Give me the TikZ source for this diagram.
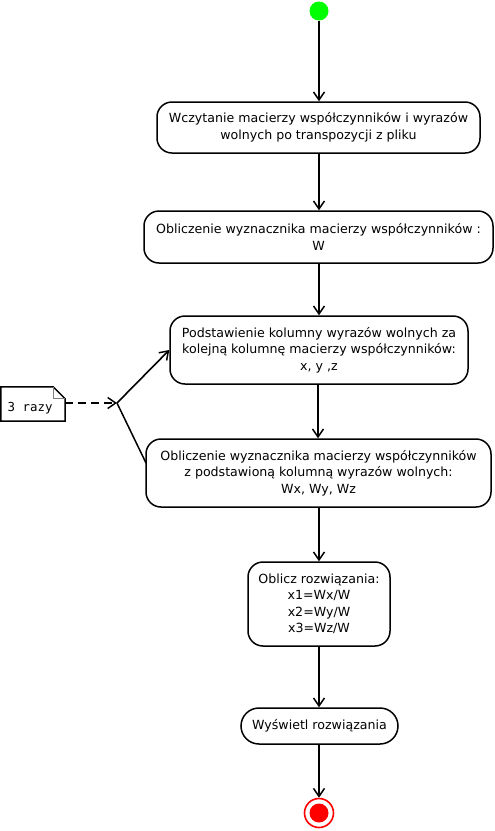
\documentclass[tikz,border=0pt]{standalone}
\usepackage{fontspec}
\setmainfont{DejaVu Sans}
\newfontfamily\monofont{DejaVu Sans Mono}
\usetikzlibrary{arrows.meta}
\begin{document}
\begin{tikzpicture}[x=1pt,y=-1pt,
  font=\fontsize{12.6}{16.5}\selectfont,
  act/.style={draw, line width=1.5pt, rounded corners=15pt, align=center, inner sep=0pt},
  tip/.style={-{Straight Barb[length=8pt,width=11pt,line width=1.5pt]}},
  flow/.style={line width=1.6pt, tip},
  plain/.style={line width=1.5pt}]
\useasboundingbox (0,0) rectangle (495,831);
% start and end points
\node[circle, fill={rgb,255:red,0;green,255;blue,0}, minimum size=19pt, inner sep=0pt] (start) at (319,11) {};
\node[circle, draw=red, line width=1.6pt, fill=white, minimum size=29pt, inner sep=0pt] (end) at (319,813) {};
\node[circle, fill=red, minimum size=19pt, inner sep=0pt] (endin) at (319,813) {};
% activities
\node[act, minimum width=323pt, minimum height=51pt] (b1) at (318.5,127.5) {Wczytanie macierzy współczynników i wyrazów\\wolnych po transpozycji z pliku};
\node[act, minimum width=349pt, minimum height=52pt] (b2) at (318.5,237) {Obliczenie wyznacznika macierzy współczynników :\\W};
\node[act, minimum width=298pt, minimum height=68pt] (b3) at (319,350) {Podstawienie kolumny wyrazów wolnych za\\kolejną kolumnę macierzy współczynników:\\x, y ,z};
\node[act, minimum width=345pt, minimum height=68pt] (b4) at (318.5,473) {Obliczenie wyznacznika macierzy współczynników\\z podstawioną kolumną wyrazów wolnych:\\Wx, Wy, Wz};
\node[act, minimum width=142pt, minimum height=84pt] (b5) at (319,604) {Oblicz rozwiązania:\\x1=Wx/W\\x2=Wy/W\\x3=Wz/W};
\node[act, minimum width=157pt, minimum height=36pt, rounded corners=18pt] (b6) at (319.5,726) {Wyświetl rozwiązania};
% main flow, all on the central axis
\coordinate (axis) at (319,0);
\draw[flow] (start.south) -- (axis |- b1.north);
\draw[flow] (axis |- b1.south) -- (axis |- b2.north);
\draw[flow] (axis |- b2.south) -- (axis |- b3.north);
\draw[flow] ([xshift=-1pt]axis |- b3.south) -- ([xshift=-1pt]axis |- b4.north);
\draw[flow] (axis |- b4.south) -- (axis |- b5.north);
\draw[flow] (axis |- b5.south) -- (axis |- b6.north);
\draw[flow] (axis |- b6.south) -- (end.north);
% loop back
\coordinate (fork) at (117,403);
\coordinate (b4in) at (146,463);
\draw[plain] (b4in) -- (fork);
\draw[flow] (fork) -- (b3.west);
% note with folded corner
\node[inner sep=0pt, minimum width=64pt, minimum height=34pt] (note) at (33,404) {};
\draw[line width=1.5pt, fill=white] (note.south west) -- (note.north west) -- ([xshift=-12pt]note.north east) -- ([yshift=-12pt]note.north east) -- (note.south east) -- cycle;
\draw[line width=0.9pt, gray] ([xshift=-12pt]note.north east) -- ([xshift=-12pt,yshift=-12pt]note.north east) -- ([yshift=-12pt]note.north east);
\node[font=\monofont\fontsize{12.4}{14}\selectfont, anchor=west, inner sep=0pt] (notetext) at (7.5,408) {3 razy};
\draw[line width=1.5pt, dash pattern=on 8pt off 5pt, tip] (note.east |- fork) -- (fork);
\end{tikzpicture}
\end{document}
